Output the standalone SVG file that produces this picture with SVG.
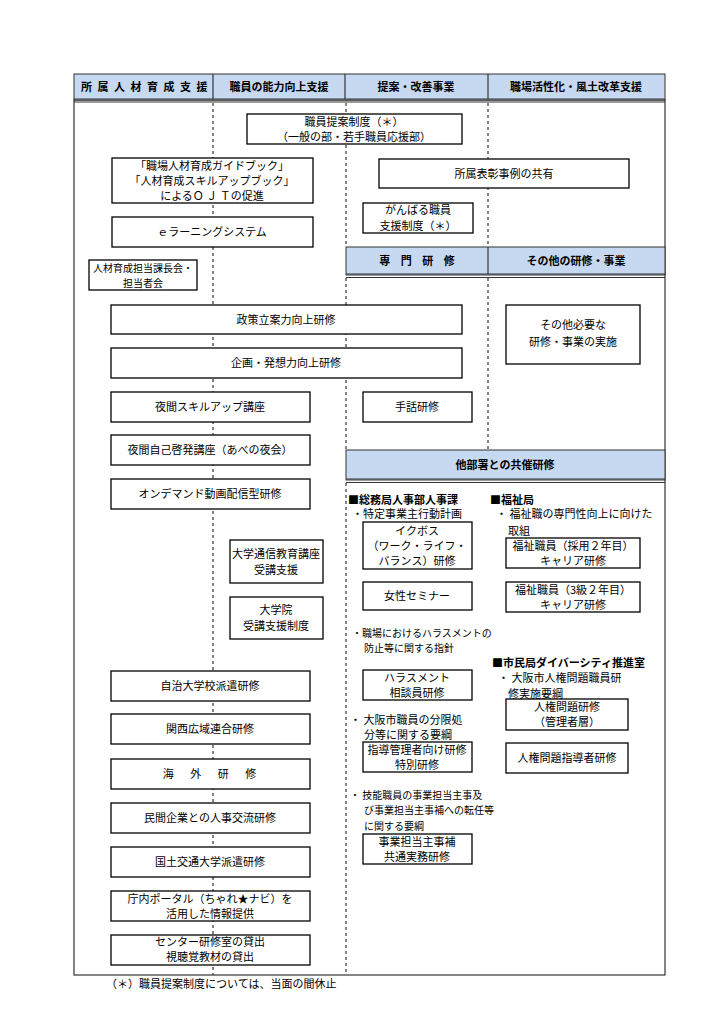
<svg xmlns="http://www.w3.org/2000/svg" width="724" height="1024" viewBox="0 0 724 1024">
<style>
.bg{fill:#fff}
.box{fill:#fff;stroke:#000;stroke-width:1.3}
.hd{fill:#C6D9F1;stroke:#333;stroke-width:1}
.ln{stroke:#333;stroke-width:1.2;fill:none}
.dash{stroke:#333;stroke-width:1.2;stroke-dasharray:3 3;fill:none}
text{font-family:"Noto Sans CJK JP","Noto Sans",sans-serif;font-size:11px;fill:#000}
.c{text-anchor:middle}
.b{font-weight:bold}
.s{font-size:10px}
</style>
<rect class="bg" x="0" y="0" width="724" height="1024"/>
<g id="frame">
<rect x="74" y="100" width="591" height="875" fill="#fff" stroke="#333" stroke-width="1.2"/>
<rect class="hd" x="74" y="74" width="591" height="26"/>
<line class="ln" x1="74" y1="99" x2="665" y2="99" stroke-width="2"/>
<line class="ln" x1="74" y1="102" x2="665" y2="102" stroke-width="0.8"/>
<line class="ln" x1="213" y1="74" x2="213" y2="99"/>
<line class="ln" x1="345" y1="74" x2="345" y2="99"/>
<line class="ln" x1="488" y1="74" x2="488" y2="99"/>
<text class="c b" x="145" y="91" letter-spacing="1.5">所 属 人 材 育 成 支 援</text>
<text class="c b" x="279" y="91">職員の能力向上支援</text>
<text class="c b" x="416" y="91">提案・改善事業</text>
<text class="c b" x="576" y="91">職場活性化・風土改革支援</text>
</g>
<g id="connectors">
<line class="dash" x1="213" y1="103" x2="213" y2="975"/>
<line class="dash" x1="346" y1="103" x2="346" y2="247"/>
<line class="dash" x1="346" y1="278" x2="346" y2="450"/>
<line class="dash" x1="346" y1="483" x2="346" y2="975"/>
<line class="dash" x1="488" y1="103" x2="488" y2="247"/>
<line class="dash" x1="488" y1="278" x2="488" y2="450"/>
</g>
<g id="hdr-senmon">
<rect class="hd" x="346" y="247" width="319" height="28"/>
<line class="ln" x1="346" y1="274" x2="665" y2="274" stroke-width="2"/>
<line class="ln" x1="346" y1="277.5" x2="665" y2="277.5" stroke-width="0.8"/>
<line class="ln" x1="488" y1="247" x2="488" y2="274"/>
<text class="c b" x="419" y="265" letter-spacing="4">専 門 研 修</text>
<text class="c b" x="576" y="265">その他の研修・事業</text>
</g>
<g id="hdr-kyosai">
<rect class="hd" x="346" y="450" width="319" height="30"/>
<line class="ln" x1="346" y1="479" x2="665" y2="479" stroke-width="2"/>
<line class="ln" x1="346" y1="482.5" x2="665" y2="482.5" stroke-width="0.8"/>
<text class="c b" x="505" y="469">他部署との共催研修</text>
</g>
<g id="n-teian"><rect class="box" x="247" y="114" width="215" height="30"/><text class="c" x="354" y="126">職員提案制度（＊）</text><text class="c" x="354" y="141">（一般の部・若手職員応援部）</text></g>
<g id="n-guide"><rect class="box" x="112" y="158" width="201" height="45"/><text class="c" x="212" y="170">「職場人材育成ガイドブック」</text><text class="c" x="212" y="185">「人材育成スキルアップブック」</text><text class="c" x="212" y="200">によるＯ Ｊ Ｔの促進</text></g>
<g id="n-elearn"><rect class="box" x="112" y="217" width="201" height="30"/><text class="c" x="212" y="236">ｅラーニングシステム</text></g>
<g id="n-kacho"><rect class="box" x="89" y="260" width="108" height="30"/><text class="c s" x="143" y="272">人材育成担当課長会・</text><text class="c s" x="143" y="287">担当者会</text></g>
<g id="n-hyosho"><rect class="box" x="379" y="159" width="250" height="29"/><text class="c" x="504" y="178">所属表彰事例の共有</text></g>
<g id="n-ganbaru"><rect class="box" x="363" y="203" width="110" height="30"/><text class="c" x="418" y="214">がんばる職員</text><text class="c" x="418" y="230">支援制度（＊）</text></g>
<g id="n-seisaku"><rect class="box" x="111" y="305" width="351" height="29"/><text class="c" x="286" y="324">政策立案力向上研修</text></g>
<g id="n-sonota"><rect class="box" x="506" y="305" width="134" height="59"/><text class="c" x="573" y="329">その他必要な</text><text class="c" x="573" y="346">研修・事業の実施</text></g>
<g id="n-kikaku"><rect class="box" x="111" y="348" width="351" height="30"/><text class="c" x="286" y="367">企画・発想力向上研修</text></g>
<g id="n-yakan1"><rect class="box" x="111" y="392" width="199" height="30"/><text class="c" x="210" y="411">夜間スキルアップ講座</text></g>
<g id="n-shuwa"><rect class="box" x="363" y="392" width="109" height="30"/><text class="c" x="417" y="411">手話研修</text></g>
<g id="n-yakan2"><rect class="box" x="111" y="435" width="199" height="30"/><text class="c" x="210" y="454">夜間自己啓発講座（あべの夜会）</text></g>
<g id="n-ondemand"><rect class="box" x="111" y="479" width="199" height="30"/><text class="c" x="210" y="498">オンデマンド動画配信型研修</text></g>
<g id="n-tsushin"><rect class="box" x="230" y="540" width="93" height="43"/><text class="c" x="276" y="558">大学通信教育講座</text><text class="c" x="276" y="574">受講支援</text></g>
<g id="n-daigakuin"><rect class="box" x="230" y="597" width="93" height="42"/><text class="c" x="276" y="614">大学院</text><text class="c" x="276" y="630">受講支援制度</text></g>
<g id="n-jichi"><rect class="box" x="111" y="671" width="199" height="30"/><text class="c" x="210" y="690">自治大学校派遣研修</text></g>
<g id="n-kansai"><rect class="box" x="111" y="714" width="199" height="30"/><text class="c" x="210" y="733">関西広域連合研修</text></g>
<g id="n-kaigai"><rect class="box" x="111" y="759" width="199" height="30"/><text class="c" x="213" y="778" letter-spacing="7">海 外 研 修</text></g>
<g id="n-minkan"><rect class="box" x="111" y="803" width="199" height="30"/><text class="c" x="210" y="822">民間企業との人事交流研修</text></g>
<g id="n-kokudo"><rect class="box" x="111" y="847" width="199" height="30"/><text class="c" x="210" y="866">国土交通大学派遣研修</text></g>
<g id="n-portal"><rect class="box" x="111" y="891" width="199" height="30"/><text class="c" x="210" y="903">庁内ポータル（ちゃれ★ナビ）を</text><text class="c" x="210" y="918">活用した情報提供</text></g>
<g id="n-center"><rect class="box" x="111" y="935" width="199" height="30"/><text class="c" x="210" y="946">センター研修室の貸出</text><text class="c" x="210" y="961">視聴覚教材の貸出</text></g>
<g id="sec-somu">
<text class="b" x="348" y="504">■総務局人事部人事課</text>
<text x="352" y="518">・特定事業主行動計画</text>
<text class="s" x="352" y="637">・職場におけるハラスメントの</text>
<text class="s" x="364" y="652">防止等に関する指針</text>
<text x="350" y="724">・ 大阪市職員の分限処</text>
<text x="364" y="739">分等に関する要綱</text>
<text class="s" x="350" y="799">・ 技能職員の事業担当主事及</text>
<text class="s" x="364" y="814">び事業担当主事補への転任等</text>
<text class="s" x="364" y="830">に関する要綱</text>
</g>
<g id="n-ikuboss"><rect class="box" x="363" y="522" width="109" height="47"/><text class="c" x="417" y="535">イクボス</text><text class="c" x="417" y="550">（ワーク・ライフ・</text><text class="c" x="417" y="565">バランス）研修</text></g>
<g id="n-josei"><rect class="box" x="363" y="582" width="109" height="28"/><text class="c" x="417" y="600">女性セミナー</text></g>
<g id="n-harass"><rect class="box" x="363" y="670" width="109" height="30"/><text class="c" x="417" y="682">ハラスメント</text><text class="c" x="417" y="697">相談員研修</text></g>
<g id="n-shido"><rect class="box" x="363" y="742" width="109" height="30"/><text class="c" x="417" y="754" font-size="10.5">指導管理者向け研修</text><text class="c" x="417" y="769">特別研修</text></g>
<g id="n-jigyo"><rect class="box" x="363" y="834" width="109" height="30"/><text class="c" x="417" y="846">事業担当主事補</text><text class="c" x="417" y="861">共通実務研修</text></g>
<g id="sec-fukushi">
<text class="b" x="490" y="504">■福祉局</text>
<text x="496" y="518">・ 福祉職の専門性向上に向けた</text>
<text x="508" y="535">取組</text>
<text class="b" x="492" y="667">■市民局ダイバーシティ推進室</text>
<text x="498" y="682">・ 大阪市人権問題職員研</text>
<text x="508" y="698">修実施要綱</text>
</g>
<g id="n-fukushi1"><rect class="box" x="506" y="538" width="134" height="30"/><text class="c" x="573" y="550">福祉職員（採用２年目）</text><text class="c" x="573" y="565">キャリア研修</text></g>
<g id="n-fukushi2"><rect class="box" x="506" y="582" width="134" height="30"/><text class="c" x="573" y="594">福祉職員（3級２年目）</text><text class="c" x="573" y="609">キャリア研修</text></g>
<g id="n-jinken1"><rect class="box" x="506" y="699" width="122" height="31"/><text class="c" x="567" y="711">人権問題研修</text><text class="c" x="567" y="726">（管理者層）</text></g>
<g id="n-jinken2"><rect class="box" x="506" y="743" width="122" height="30"/><text class="c" x="567" y="762">人権問題指導者研修</text></g>
<g id="note"><text x="106" y="988">（＊）職員提案制度については、当面の間休止</text></g>
</svg>
